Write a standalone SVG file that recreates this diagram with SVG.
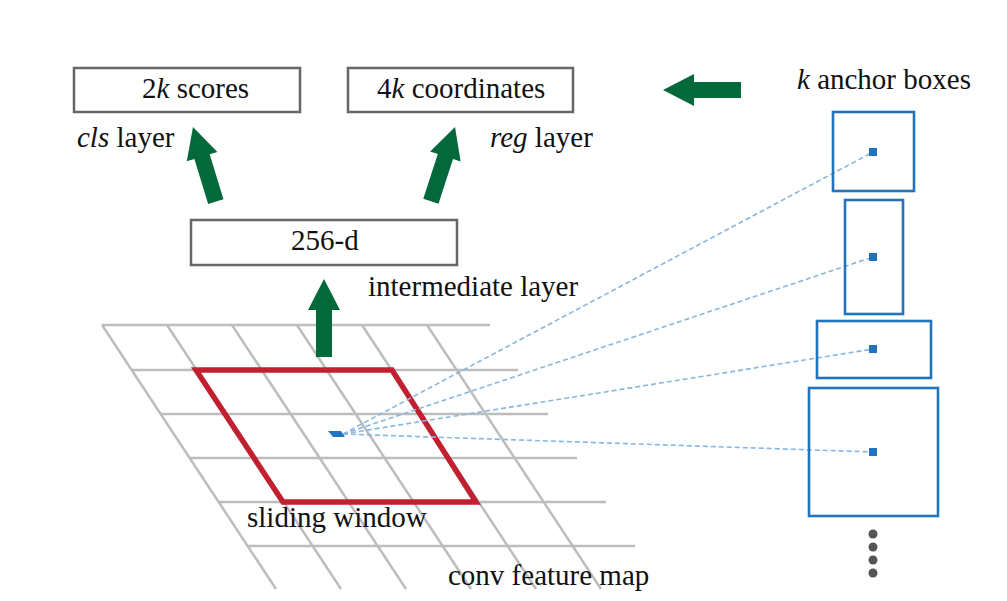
<svg xmlns="http://www.w3.org/2000/svg" width="1007" height="601" viewBox="0 0 1007 601">
<style>
text{font-family:'Liberation Serif','DejaVu Serif',serif;font-size:29px;fill:#111}
.it{font-style:italic}
.box{fill:#fff;stroke:#666;stroke-width:2.5}
.grid line{stroke:#bdbdbd;stroke-width:2.5}
.anchor{fill:none;stroke:#2474bd;stroke-width:2.6}
.ctr{fill:#1f74bd}
.dash{stroke:#88b6df;stroke-width:1.6;stroke-dasharray:5 3;fill:none}
.arrow{fill:#04693a}
.dot{fill:#555}
</style>
<defs>
<path id="arr" d="M0,0 L16,31 L8,31 L8,78 L-8,78 L-8,31 L-16,31 Z"/>
</defs>
<rect width="1007" height="601" fill="#fff"/>

<g id="feature-map" class="grid">
<line x1="102" y1="325" x2="490" y2="325"/>
<line x1="131" y1="370" x2="518" y2="370"/>
<line x1="160" y1="414" x2="548" y2="414"/>
<line x1="189" y1="458" x2="577" y2="458"/>
<line x1="218" y1="502" x2="606" y2="502"/>
<line x1="247" y1="546" x2="635" y2="546"/>
<line x1="102" y1="325" x2="276" y2="589"/>
<line x1="167" y1="325" x2="341" y2="589"/>
<line x1="232" y1="325" x2="406" y2="589"/>
<line x1="297" y1="325" x2="471" y2="589"/>
<line x1="362" y1="325" x2="536" y2="589"/>
<line x1="427" y1="325" x2="601" y2="589"/>
</g>

<g id="sliding-window">
<polygon points="196,370 392,370 476,502 283,502" fill="none" stroke="#c0202f" stroke-width="5.5" stroke-linejoin="miter"/>
<polygon points="328,431 341,431 345,437 333,437" class="ctr"/>
</g>

<g id="connectors">
<line class="dash" x1="343" y1="434" x2="873" y2="152"/>
<line class="dash" x1="343" y1="434" x2="873" y2="257"/>
<line class="dash" x1="343" y1="434" x2="873" y2="349"/>
<line class="dash" x1="343" y1="434" x2="873" y2="452"/>
<use href="#arr" class="arrow" transform="translate(324,279)"/>
<use href="#arr" class="arrow" transform="translate(193,127) rotate(-17)"/>
<use href="#arr" class="arrow" transform="translate(455,127) rotate(18)"/>
<use href="#arr" class="arrow" transform="translate(663,90) rotate(-90)"/>
</g>

<g id="cls-box">
<rect class="box" x="74" y="68" width="226" height="44"/>
<text x="142" y="98" font-family="Liberation Serif, serif">2<tspan class="it">k</tspan> scores</text>
</g>
<g id="reg-box">
<rect class="box" x="348" y="68" width="225" height="44"/>
<text x="377" y="98">4<tspan class="it">k</tspan> coordinates</text>
</g>
<g id="cls-label"><text x="77" y="147"><tspan class="it">cls</tspan> layer</text></g>
<g id="reg-label"><text x="490" y="147"><tspan class="it">reg</tspan> layer</text></g>
<g id="intermediate">
<rect class="box" x="191" y="220" width="266" height="45"/>
<text x="291" y="250">256-d</text>
<text x="368" y="296">intermediate layer</text>
</g>
<g id="labels">
<text x="247" y="527">sliding window</text>
<text x="448" y="585">conv feature map</text>
<text x="797" y="89"><tspan class="it">k</tspan> anchor boxes</text>
</g>

<g id="anchor1"><rect class="anchor" x="833" y="112" width="81" height="79"/><rect class="ctr" x="869" y="148" width="8" height="8"/></g>
<g id="anchor2"><rect class="anchor" x="845" y="200" width="58" height="114"/><rect class="ctr" x="869" y="253" width="8" height="8"/></g>
<g id="anchor3"><rect class="anchor" x="817" y="321" width="114" height="57"/><rect class="ctr" x="869" y="345" width="8" height="8"/></g>
<g id="anchor4"><rect class="anchor" x="809" y="388" width="129" height="128"/><rect class="ctr" x="869" y="448" width="8" height="8"/></g>
<g id="ellipsis">
<circle class="dot" cx="873" cy="534" r="4.5"/>
<circle class="dot" cx="873" cy="547" r="4.5"/>
<circle class="dot" cx="873" cy="560" r="4.5"/>
<circle class="dot" cx="873" cy="573" r="4.5"/>
</g>
</svg>
